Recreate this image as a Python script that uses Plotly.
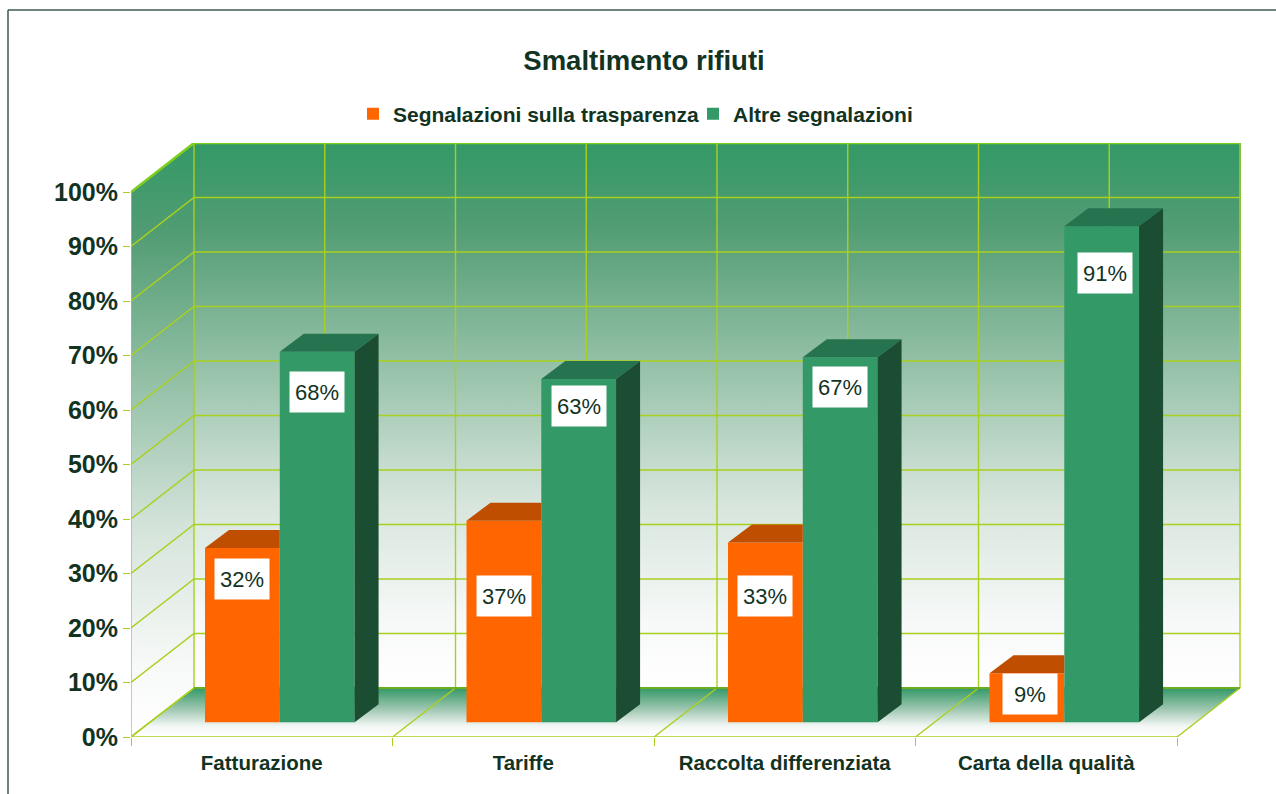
import plotly.graph_objects as go

categories = ["Fatturazione", "Tariffe", "Raccolta differenziata", "Carta della qualità"]
series_names = ["Segnalazioni sulla trasparenza", "Altre segnalazioni"]
trasparenza = [32, 37, 33, 9]
altre = [68, 63, 67, 91]
y_ticks = list(range(0, 101, 10))
y_labels = [f"{v}%" for v in y_ticks]

# ---- geometry (data units: one category = 1, one percent = 1) ----
W, H = 1276, 794
L, R, T, B = 131, 1241, 143, 737
PX_X = 261.5
PX_Y = 5.45
XMAX = (R - L) / PX_X
YMAX = (B - T) / PX_Y
DX, DY = 63 / PX_X, 49 / PX_Y        # depth of the box
BX, BY = 24 / PX_X, 18 / PX_Y        # depth of a bar
BASE = 2.7
OR_L, BAR_W = 0.283, 0.286
GR_L = OR_L + BAR_W
n = len(categories)
LABEL_Y_OR = [29.0, 25.9, 25.9, 7.9]
LABEL_Y_GR = [63.3, 60.7, 64.2, 85.1]
LABEL_NUDGE_OR = [0, 0, 0, 0.012]
LABEL_NUDGE_GR = [0, 0, 0, 0.012]

ORANGE, ORANGE_TOP = "#FF6600", "#C04E00"
GREEN, GREEN_TOP, GREEN_SIDE = "#339966", "#267350", "#1B4D33"
GRID = "#A9D01E"
GRID_DARK = "#7CD01C"
TEXT = "#12331F"
FONT = "Liberation Sans"

WALL_SCALE = [[0, "#FFFFFF"], [0.12, "#F7F9F8"], [0.35, "#D5E4DB"], [0.6, "#93C0A6"],
              [0.85, "#519C73"], [1, "#339966"]]
FLOOR_SCALE = [[0, "#FFFFFF"], [0.22, "#F3F7F5"], [0.55, "#A3C9B4"], [1, "#339966"]]

fig = go.Figure()


def poly(xs, ys, **kw):
    fig.add_trace(go.Scatter(x=xs, y=ys, mode="lines", fill="toself", line=dict(width=0),
                             hoverinfo="skip", showlegend=False, **kw))


# walls and floor, on the lower axes
poly([DX, XMAX, XMAX, DX, DX], [DY, DY, 100 + DY, 100 + DY, DY],
     fillgradient=dict(type="vertical", colorscale=WALL_SCALE))
poly([0, DX, DX, 0, 0], [0, DY, 100 + DY, 100, 0],
     fillgradient=dict(type="vertical", colorscale=WALL_SCALE))
poly([0, n, n + DX, DX, 0], [0, 0, DY, DY, 0],
     fillgradient=dict(type="vertical", colorscale=FLOOR_SCALE))

# grid
gx, gy = [], []
for v in y_ticks:
    gx += [0, DX, n + DX, None]
    gy += [v, v + DY, v + DY, None]
for k in range(2 * n + 1):
    gx += [DX + k / 2, DX + k / 2, None]
    gy += [DY, 100 + DY, None]
for k in range(n + 1):
    gx += [k, k + DX, None]
    gy += [0, DY, None]
gx += [0, 0, None, 0, n, None]
gy += [0, 100, None, 0, 0, None]
fig.add_trace(go.Scatter(x=gx, y=gy, mode="lines", line=dict(color=GRID, width=1.4),
                         hoverinfo="skip", showlegend=False, cliponaxis=False))
fig.add_trace(go.Scatter(x=[0, DX, n + DX], y=[100, 100 + DY, 100 + DY], mode="lines",
                         line=dict(color=GRID_DARK, width=2.5), hoverinfo="skip",
                         showlegend=False, cliponaxis=False))
fig.add_trace(go.Scatter(x=[DX, n + DX], y=[DY, DY], mode="lines",
                         line=dict(color="#6DAE1E", width=2), hoverinfo="skip",
                         showlegend=False, cliponaxis=False))

# front faces of the bars, on the overlay axes
fig.add_trace(go.Bar(x=[i + OR_L + BAR_W / 2 for i in range(n)], y=trasparenza, base=BASE, width=BAR_W,
                     name=series_names[0], marker=dict(color=ORANGE, line=dict(width=0)),
                     xaxis="x2", yaxis="y2"))
fig.add_trace(go.Bar(x=[i + GR_L + BAR_W / 2 for i in range(n)], y=altre, base=BASE, width=BAR_W,
                     name=series_names[1], marker=dict(color=GREEN, line=dict(width=0)),
                     xaxis="x2", yaxis="y2"))

# top and side faces, derived from the same values
for i in range(n):
    x0, x1 = i + OR_L, i + OR_L + BAR_W
    t = BASE + trasparenza[i]
    poly([x0, x0 + BX, x1, x1, x0], [t, t + BY, t + BY, t, t], fillcolor=ORANGE_TOP,
         xaxis="x2", yaxis="y2")
    x0, x1 = i + GR_L, i + GR_L + BAR_W
    t = BASE + altre[i]
    poly([x0, x0 + BX, x1 + BX, x1, x0], [t, t + BY, t + BY, t, t], fillcolor=GREEN_TOP,
         xaxis="x2", yaxis="y2")
    poly([x1, x1 + BX, x1 + BX, x1, x1], [BASE, BASE + BY, t + BY, t, BASE], fillcolor=GREEN_SIDE,
         xaxis="x2", yaxis="y2")

# value labels
annotations = []
for i in range(n):
    for val, ly, left, nudge in ((trasparenza[i], LABEL_Y_OR[i], OR_L, LABEL_NUDGE_OR[i]),
                                 (altre[i], LABEL_Y_GR[i], GR_L, LABEL_NUDGE_GR[i])):
        annotations.append(dict(x=i + left + BAR_W / 2 + nudge, y=ly, xref="x", yref="y", text=f"{val}%",
                                showarrow=False, bgcolor="white", width=52, height=38,
                                font=dict(family=FONT, size=22, color=TEXT)))

paper_x = lambda p: (p - L) / (R - L)
paper_y = lambda p: (B - p) / (B - T)
frame = dict(type="line", xref="paper", yref="paper", line=dict(color="#3F5A4C", width=1.5))
shapes = [dict(frame, x0=paper_x(8), x1=paper_x(1276), y0=paper_y(10), y1=paper_y(10)),
          dict(frame, x0=paper_x(8), x1=paper_x(8), y0=paper_y(10), y1=paper_y(794))]

fig.update_layout(
    width=W, height=H, autosize=False, paper_bgcolor="white", plot_bgcolor="white",
    margin=dict(l=L, r=W - R, t=T, b=H - B, pad=0), barmode="overlay",
    font=dict(family=FONT, color=TEXT),
    title=dict(text="<b>Smaltimento rifiuti</b>", x=644 / W, y=1 - 60 / H, xanchor="center", yanchor="middle",
               xref="container", font=dict(family=FONT, size=27.5, color=TEXT)),
    legend=dict(orientation="h", x=paper_x(353), xanchor="left", y=paper_y(114), yanchor="middle",
                bgcolor="rgba(0,0,0,0)", font=dict(family=FONT, size=21, color=TEXT, weight="bold"),
                entrywidth=295, entrywidthmode="pixels",
                itemclick=False, itemdoubleclick=False, traceorder="normal"),
    annotations=annotations, shapes=shapes,
    xaxis=dict(range=[0, XMAX], domain=[0, 1], showgrid=False, zeroline=False, showline=False,
               tickvals=[i + 0.5 for i in range(n)], ticktext=categories, ticks="outside",
               ticklen=7, tickcolor="rgba(0,0,0,0)", tickwidth=0,
               tickfont=dict(family=FONT, size=20.5, color=TEXT, weight="bold"),
               minor=dict(tickvals=list(range(n + 1)), ticks="outside", ticklen=8, tickcolor=GRID, tickwidth=1.4)),
    yaxis=dict(range=[0, YMAX], domain=[0, 1], showgrid=False, zeroline=False, showline=False,
               tickvals=y_ticks, ticktext=y_labels, ticks="outside", ticklen=7, tickcolor=GRID, tickwidth=1.4,
               tickfont=dict(family=FONT, size=25, color=TEXT, weight="bold")),
    xaxis2=dict(range=[0, XMAX], domain=[0, 1], overlaying="x", visible=False),
    yaxis2=dict(range=[0, YMAX], domain=[0, 1], overlaying="y", visible=False),
)

fig.write_html("out.html", config={"displayModeBar": False},
               post_script="document.body.style.margin='0';document.documentElement.style.overflow='hidden';")
